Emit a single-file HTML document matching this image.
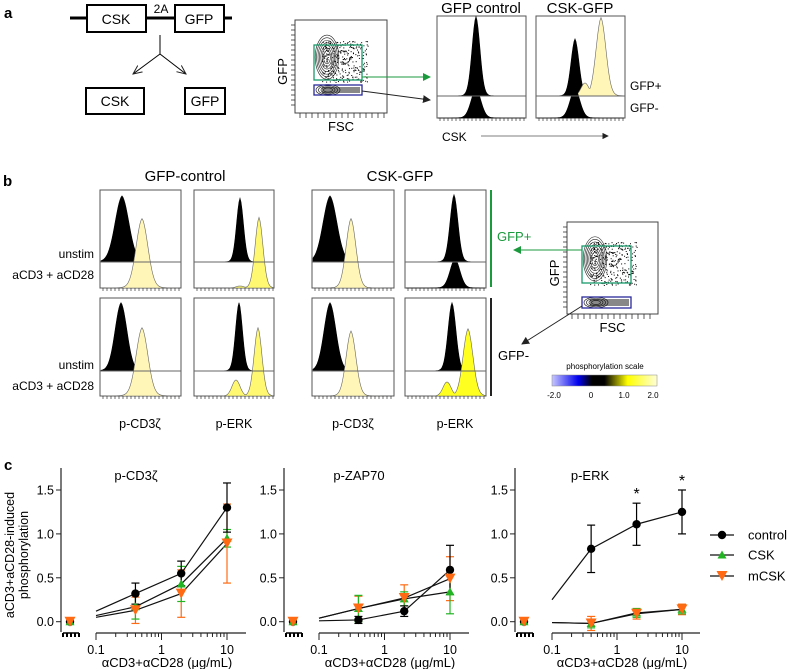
<!DOCTYPE html>
<html><head><meta charset="utf-8"><style>
html,body{margin:0;padding:0;background:#fff;}
svg{display:block;font-family:"Liberation Sans",sans-serif;}
</style></head><body>
<svg id="fig" width="788" height="669" viewBox="0 0 788 669" xmlns="http://www.w3.org/2000/svg">
<defs>
<linearGradient id="scaleGrad" x1="0" x2="1" y1="0" y2="0">
<stop offset="0" stop-color="#c8c8ff"/><stop offset="0.25" stop-color="#0000ee"/><stop offset="0.38" stop-color="#000000"/><stop offset="0.5" stop-color="#000"/><stop offset="0.72" stop-color="#ffff00"/><stop offset="1" stop-color="#ffffd8"/>
</linearGradient>
<marker id="arrG" markerWidth="8" markerHeight="8" refX="7" refY="4" orient="auto"><path d="M0,0 L8,4 L0,8 z" fill="#1a9a3c"/></marker>
<marker id="arrK" markerWidth="8" markerHeight="8" refX="7" refY="4" orient="auto"><path d="M0,0 L8,4 L0,8 z" fill="#222"/></marker>
<marker id="arrT" markerWidth="10" markerHeight="10" refX="9" refY="5" orient="auto"><path d="M0,1 L9,5 L0,9" fill="none" stroke="#222" stroke-width="1"/></marker>
</defs>

<!-- Panel a -->
<g>
<text x="4" y="18" font-size="15" font-weight="bold">a</text>
<line x1="70" y1="18" x2="232" y2="18" stroke="#000" stroke-width="3"/>
<rect x="87" y="5" width="59" height="27" fill="#fff" stroke="#000" stroke-width="2"/>
<text x="116" y="24" font-size="14" text-anchor="middle">CSK</text>
<rect x="175" y="5" width="49" height="27" fill="#fff" stroke="#000" stroke-width="2"/>
<text x="199" y="24" font-size="14" text-anchor="middle">GFP</text>
<text x="161" y="13" font-size="12" text-anchor="middle">2A</text>
<line x1="160" y1="35" x2="160" y2="54" stroke="#000"/>
<line x1="160" y1="54" x2="133" y2="74" stroke="#000" marker-end="url(#arrT)"/>
<line x1="160" y1="54" x2="186" y2="74" stroke="#000" marker-end="url(#arrT)"/>
<rect x="86" y="88" width="58" height="26" fill="#fff" stroke="#000" stroke-width="2"/>
<text x="115" y="106" font-size="14" text-anchor="middle">CSK</text>
<rect x="185" y="88" width="40" height="26" fill="#fff" stroke="#000" stroke-width="2"/>
<text x="205" y="106" font-size="14" text-anchor="middle">GFP</text>
<g id="facsA"></g>
<line x1="362" y1="77" x2="430" y2="77" stroke="#1a9a3c" stroke-width="1" marker-end="url(#arrG)"/>
<line x1="362" y1="91" x2="430" y2="100" stroke="#222" stroke-width="1" marker-end="url(#arrK)"/>
<text x="481" y="13" font-size="15" text-anchor="middle">GFP control</text>
<text x="580" y="13" font-size="15" text-anchor="middle">CSK-GFP</text>
<g id="histA"></g>
<text x="630" y="90" font-size="12">GFP+</text>
<text x="630" y="112" font-size="12">GFP-</text>
<text x="442" y="141" font-size="12">CSK</text>
<line x1="481" y1="136" x2="608" y2="136" stroke="#555" stroke-width="0.8" marker-end="url(#arrK)"/>
</g>

<!-- Panel b -->
<g>
<text x="3" y="186" font-size="15" font-weight="bold">b</text>
<text x="185" y="181" font-size="15" text-anchor="middle">GFP-control</text>
<text x="400" y="181" font-size="15" text-anchor="middle">CSK-GFP</text>
<g id="histB"></g>
<g font-size="12" text-anchor="end">
<text x="94" y="258">unstim</text>
<text x="94" y="279">aCD3 + aCD28</text>
<text x="94" y="369">unstim</text>
<text x="94" y="390">aCD3 + aCD28</text>
</g>
<g font-size="12.5" text-anchor="middle">
<text x="140" y="428">p-CD3ζ</text>
<text x="234" y="428">p-ERK</text>
<text x="353" y="428">p-CD3ζ</text>
<text x="455" y="428">p-ERK</text>
</g>
<line x1="491" y1="190" x2="491" y2="287" stroke="#1a9a3c" stroke-width="2"/>
<line x1="491" y1="298" x2="491" y2="396" stroke="#222" stroke-width="2"/>
<text x="497" y="241" font-size="13" fill="#1a9a3c">GFP+</text>
<text x="498" y="360" font-size="13">GFP-</text>
<g id="facsB"></g>
<line x1="582" y1="250" x2="514" y2="250" stroke="#1a9a3c" stroke-width="1" marker-end="url(#arrG)"/>
<line x1="582" y1="306" x2="522" y2="344" stroke="#222" stroke-width="1" marker-end="url(#arrK)"/>
<text x="605" y="369" font-size="8" text-anchor="middle">phosphorylation scale</text>
<rect x="552" y="375" width="105" height="11" fill="url(#scaleGrad)" stroke="#888" stroke-width="0.5"/>
<g font-size="8" text-anchor="middle">
<text x="554" y="398">-2.0</text><text x="591" y="398">0</text><text x="624" y="398">1.0</text><text x="653" y="398">2.0</text>
</g>
</g>

<!-- Panel c -->
<g id="panelC">
<text x="4" y="470" font-size="15" font-weight="bold">c</text>
<text transform="translate(14,555) rotate(-90)" font-size="12.5" text-anchor="middle">aCD3+aCD28-induced</text>
<text transform="translate(28,555) rotate(-90)" font-size="12.5" text-anchor="middle">phosphorylation</text>
</g>
</svg>
<script>
const NS='http://www.w3.org/2000/svg';
function mk(parent,tag,attrs,txt){const e=document.createElementNS(NS,tag);for(const k in attrs)e.setAttribute(k,attrs[k]);if(txt!==undefined)e.textContent=txt;parent.appendChild(e);return e;}

// ---------- panel c data ----------
const doses=[0.4,2,10];
const panelTitles=['p-CD3ζ','p-ZAP70','p-ERK'];
const seriesNames=['control','CSK','mCSK'];
const yTicks=[0,0.5,1.0,1.5];
const yTickLabels=['0.0','0.5','1.0','1.5'];
const xTicks=[0.1,1,10];
const xTickLabels=['0.1','1','10'];
const cd3Control=[0.32,0.55,1.30], cd3Csk=[0.17,0.43,0.95], cd3Mcsk=[0.13,0.32,0.89];
const cd3ControlErr=[0.12,0.14,0.28], cd3CskErr=[0.14,0.20,0.10], cd3McskErr=[0.15,0.27,0.45];
const zapControl=[0.02,0.12,0.59], zapCsk=[0.15,0.26,0.34], zapMcsk=[0.15,0.27,0.49];
const zapControlErr=[0.04,0.06,0.28], zapCskErr=[0.15,0.08,0.25], zapMcskErr=[0.14,0.15,0.25];
const erkControl=[0.83,1.11,1.25], erkCsk=[-0.02,0.10,0.14], erkMcsk=[-0.02,0.09,0.14];
const erkControlErr=[0.27,0.24,0.25], erkCskErr=[0.05,0.05,0.05], erkMcskErr=[0.08,0.06,0.06];
const cd3Fit0=[0.12,0.07,0.05], zapFit0=[0.01,0.04,0.04], erkFit0=[0.25,-0.01,-0.01];
const zeroDose=[0,0,0];
const starDoses=[2,10];

const panels=[
 {vals:[cd3Control,cd3Csk,cd3Mcsk],errs:[cd3ControlErr,cd3CskErr,cd3McskErr],fit0:cd3Fit0,stars:[]},
 {vals:[zapControl,zapCsk,zapMcsk],errs:[zapControlErr,zapCskErr,zapMcskErr],fit0:zapFit0,stars:[]},
 {vals:[erkControl,erkCsk,erkMcsk],errs:[erkControlErr,erkCskErr,erkMcskErr],fit0:erkFit0,stars:starDoses}
];
const layout=[{ax:61,x01:96,dec:65.5,end:246},{ax:284,x01:319,dec:65.5,end:469},{ax:515,x01:552,dec:65,end:700}];
const colors=['#000','#22b422','#ff6a13'];
function yS(v){return 621.7-v*87.8;}
const C=document.getElementById('panelC');
panels.forEach((p,pi)=>{
 const L=layout[pi];
 const xS=d=>L.x01+Math.log10(d/0.1)*L.dec;
 const g=mk(C,'g',{});
 
 
 const t=mk(g,'text',{x:L.ax+75,y:480,'font-size':13,'text-anchor':'middle'},panelTitles[pi]);
 
 
 mk(g,'line',{x1:L.ax,y1:468,x2:L.ax,y2:632,stroke:'#222','stroke-width':1.2});
 yTicks.forEach((v,i)=>{
  mk(g,'line',{x1:L.ax-5,y1:yS(v),x2:L.ax,y2:yS(v),stroke:'#222','stroke-width':1});
  const tl=mk(g,'text',{x:L.ax-7,y:yS(v)+4.5,'font-size':12.5,'text-anchor':'end'},yTickLabels[i]);
  
  
 });
 mk(g,'line',{x1:L.ax+2,y1:633,x2:L.ax+18,y2:633,stroke:'#000','stroke-width':1.5});
 for(let k=0;k<5;k++)mk(g,'line',{x1:L.ax+2+k*4,y1:633,x2:L.ax+2+k*4,y2:637,stroke:'#000','stroke-width':2});
 mk(g,'line',{x1:L.x01,y1:633,x2:L.end,y2:633,stroke:'#222','stroke-width':1.2});
 [0.1,1,10].forEach(dec=>{for(let m=1;m<=9;m++){const d=dec*m;const x=xS(d);if(x>L.end+0.5)continue;const maj=(m===1);mk(g,'line',{x1:x,y1:633,x2:x,y2:maj?640:637,stroke:'#222','stroke-width':1});}});
 xTicks.forEach((d,i)=>{const tl=mk(g,'text',{x:xS(d),y:654,'font-size':12.5,'text-anchor':'middle'},xTickLabels[i]);
  
  });
 const xl=mk(g,'text',{x:(L.x01+L.end)/2-4,y:667,'font-size':13,'text-anchor':'middle'},'αCD3+αCD28 (μg/mL)');
 
 
 for(let s=2;s>=0;s--){
  const vals=p.vals[s],errs=p.errs[s];
  const pts=[[xS(0.1),yS(p.fit0[s])]].concat(doses.map((d,i)=>[xS(d),yS(vals[i])]));
  const ln=mk(g,'polyline',{points:pts.map(q=>q.join(',')).join(' '),fill:'none',stroke:'#111','stroke-width':1.2});
  
  
  doses.forEach((d,i)=>{
   const x=xS(d),y1=yS(vals[i]+errs[i]),y2=yS(vals[i]-errs[i]);
   mk(g,'line',{x1:x,y1:y1,x2:x,y2:y2,stroke:colors[s],'stroke-width':1.2});
   mk(g,'line',{x1:x-4,y1:y1,x2:x+4,y2:y1,stroke:colors[s],'stroke-width':1.2});
   mk(g,'line',{x1:x-4,y1:y2,x2:x+4,y2:y2,stroke:colors[s],'stroke-width':1.2});
  });
 }
 for(let s=0;s<3;s++){
  const vals=p.vals[s];
  const all=[[L.ax+9,zeroDose[s]]].concat(doses.map((d,i)=>[xS(d),vals[i]]));
  all.forEach(q=>{const m=marker(g,q[0],yS(q[1]),s);
   
   });
 }
 p.stars.forEach(d=>{const i=doses.indexOf(d);const st=mk(g,'text',{x:xS(d),y:yS(p.vals[0][i]+p.errs[0][i])-4,'font-size':16,'text-anchor':'middle'},'*');
  
  });
});
function marker(g,x,y,s){
 if(s===0)return mk(g,'circle',{cx:x,cy:y,r:4.2,fill:'#000'});
 if(s===1)return mk(g,'path',{d:`M${x},${y-4.5} L${x+4.5},${y+3.5} L${x-4.5},${y+3.5} Z`,fill:'#22b422'});
 return mk(g,'path',{d:`M${x-5.5},${y-5} L${x+5.5},${y-5} L${x},${y+5} Z`,fill:'#ff6a13'});
}
const lg=mk(C,'g',{});


[535,555,576].forEach((y,s)=>{
 const e=mk(lg,'g',{});
 
 
 mk(e,'line',{x1:710,y1:y,x2:734,y2:y,stroke:'#111','stroke-width':1.2});
 marker(e,722,y,s);
 mk(e,'text',{x:748,y:y+4.5,'font-size':13},seriesNames[s]);
});

// ---------- histograms ----------
const histBoxesA=[[437,16,89,102,96],[536,16,89,102,96]];
const histBoxesB=[[100,190,81,98,262],[194,190,80,98,262],[312,190,82,98,262],[405,190,81,98,262],
                  [100,298,81,98,371],[194,298,80,98,371],[312,298,82,98,371],[405,298,81,98,371]];
const histPeaksA=[[0,476,4,96,25,'#000'],[0,476,5,118,92,'#000'],[1,575,4,96,45,'#000'],[1,601,5,96,26,'#fff6b8',585,83],[1,575,5,118,92,'#000']];
const histPeaksB=[
 [0,122,7,262,203,'#000'],[0,142,6,288,226,'#fff6b8'],
 [1,240,3.5,262,205,'#000'],[1,259,4,288,225,'#fff870',240,286],
 [2,330,7,262,203,'#000'],[2,351,5,288,226,'#fff6b8'],
 [3,454,4,262,202,'#000'],[3,455,5,288,262,'#000'],
 [4,121,6,371,310,'#000'],[4,142,6,396,335,'#fff6b8'],
 [5,239,3.5,371,310,'#000'],[5,258,4,396,335,'#fff870',236,380],
 [6,330,6,371,310,'#000'],[6,351,5,396,338,'#fff6b8'],
 [7,452,4,371,310,'#000'],[7,468,5,396,336,'#ffff20',447,382]
];
function drawHists(gid,boxes,peaks){
 const G=document.getElementById(gid);
 boxes.forEach((b,i)=>{
  const r=mk(G,'rect',{x:b[0],y:b[1],width:b[2],height:b[3],fill:'#fff',stroke:'#555','stroke-width':1});
  
  
 });
 peaks.forEach(p=>{
  const b=boxes[p[0]];const cx=p[1],sg=p[2],base=p[3],top=p[4];const H=base-top;
  let d=`M${b[0]+1},${base}`;
  for(let x=b[0]+1;x<=b[0]+b[2]-1;x+=1){
   const z=(x-cx)/sg;let h=H*Math.exp(-0.5*z*z)+H*0.12*Math.exp(-Math.abs(z)/1.2);
   if(p[6]){const z2=(x-p[6])/4;h=Math.max(h,(base-p[7])*Math.exp(-0.5*z2*z2));}
   d+=` L${x},${(base-h).toFixed(1)}`;
  }
  d+=` L${b[0]+b[2]-1},${base} Z`;
  mk(G,'path',{d:d,fill:p[5],stroke:p[5]==='#000'?'#000':'#666','stroke-width':0.6});
 });
 boxes.forEach(b=>{
  mk(G,'line',{x1:b[0],y1:b[4],x2:b[0]+b[2],y2:b[4],stroke:'#666','stroke-width':1});
  for(let x=b[0]+3;x<b[0]+b[2];x+=4)mk(G,'line',{x1:x,y1:b[1]+b[3],x2:x,y2:b[1]+b[3]+3,stroke:'#333','stroke-width':0.7});
 });
}
drawHists('histA',histBoxesA,histPeaksA);
drawHists('histB',histBoxesB,histPeaksB);

// ---------- FACS contour plots ----------
function facs(gid,bx,by,bw,bh,green,blue){
 const G=document.getElementById(gid);
 mk(G,'rect',{x:bx,y:by,width:bw,height:bh,fill:'#fff',stroke:'#444','stroke-width':1});
 for(let y=by+5;y<by+bh-4;y+=5)mk(G,'line',{x1:bx-4,y1:y,x2:bx,y2:y,stroke:'#333','stroke-width':0.8});
 for(let x=bx+5;x<bx+bw-2;x+=6)mk(G,'line',{x1:x,y1:by+bh,x2:x,y2:by+bh+5,stroke:'#333','stroke-width':0.8});
 let seed=7;const rnd=()=>{seed=(seed*9301+49297)%233280;return seed/233280;};
 for(let i=0;i<320;i++){const x=green[0]+8+rnd()*(green[2]-2);const y=green[1]-4+rnd()*(green[3]+6);mk(G,'rect',{x:x,y:y,width:1,height:1,fill:'#000'});}
 const cx=green[0]+13,cy=green[1]+green[3]*0.35;
 for(let k=1;k<=7;k++)mk(G,'ellipse',{cx:cx,cy:cy,rx:2+k*1.4,ry:4+k*2.6,fill:'none',stroke:'#222','stroke-width':0.6});
 for(let k=1;k<=4;k++)mk(G,'ellipse',{cx:blue[0]+14,cy:blue[1]+blue[3]/2,rx:2+k*2.5,ry:1+k*1.1,fill:'none',stroke:'#222','stroke-width':0.7});
 mk(G,'rect',{x:blue[0]+8,y:blue[1]+2,width:blue[2]-10,height:blue[3]-4,fill:'#111',opacity:0.5});
 mk(G,'rect',{x:green[0],y:green[1],width:green[2],height:green[3],fill:'none',stroke:'#1a9a6c','stroke-width':1.3});
 mk(G,'rect',{x:blue[0],y:blue[1],width:blue[2],height:blue[3],fill:'none',stroke:'#2a2a9a','stroke-width':1.3});
 mk(G,'text',{x:bx+bw/2,y:by+bh+18,'font-size':13,'text-anchor':'middle'},'FSC');
 mk(G,'text',{transform:`translate(${bx-8},${by+bh/2+5}) rotate(-90)`,'font-size':13,'text-anchor':'middle'},'GFP');
}
facs('facsA',295,20,92,93,[314,45,48,35],[314,85,48,10]);
facs('facsB',567,222,91,92,[582,246,49,37],[582,297,49,11]);
</script>
</body></html>
